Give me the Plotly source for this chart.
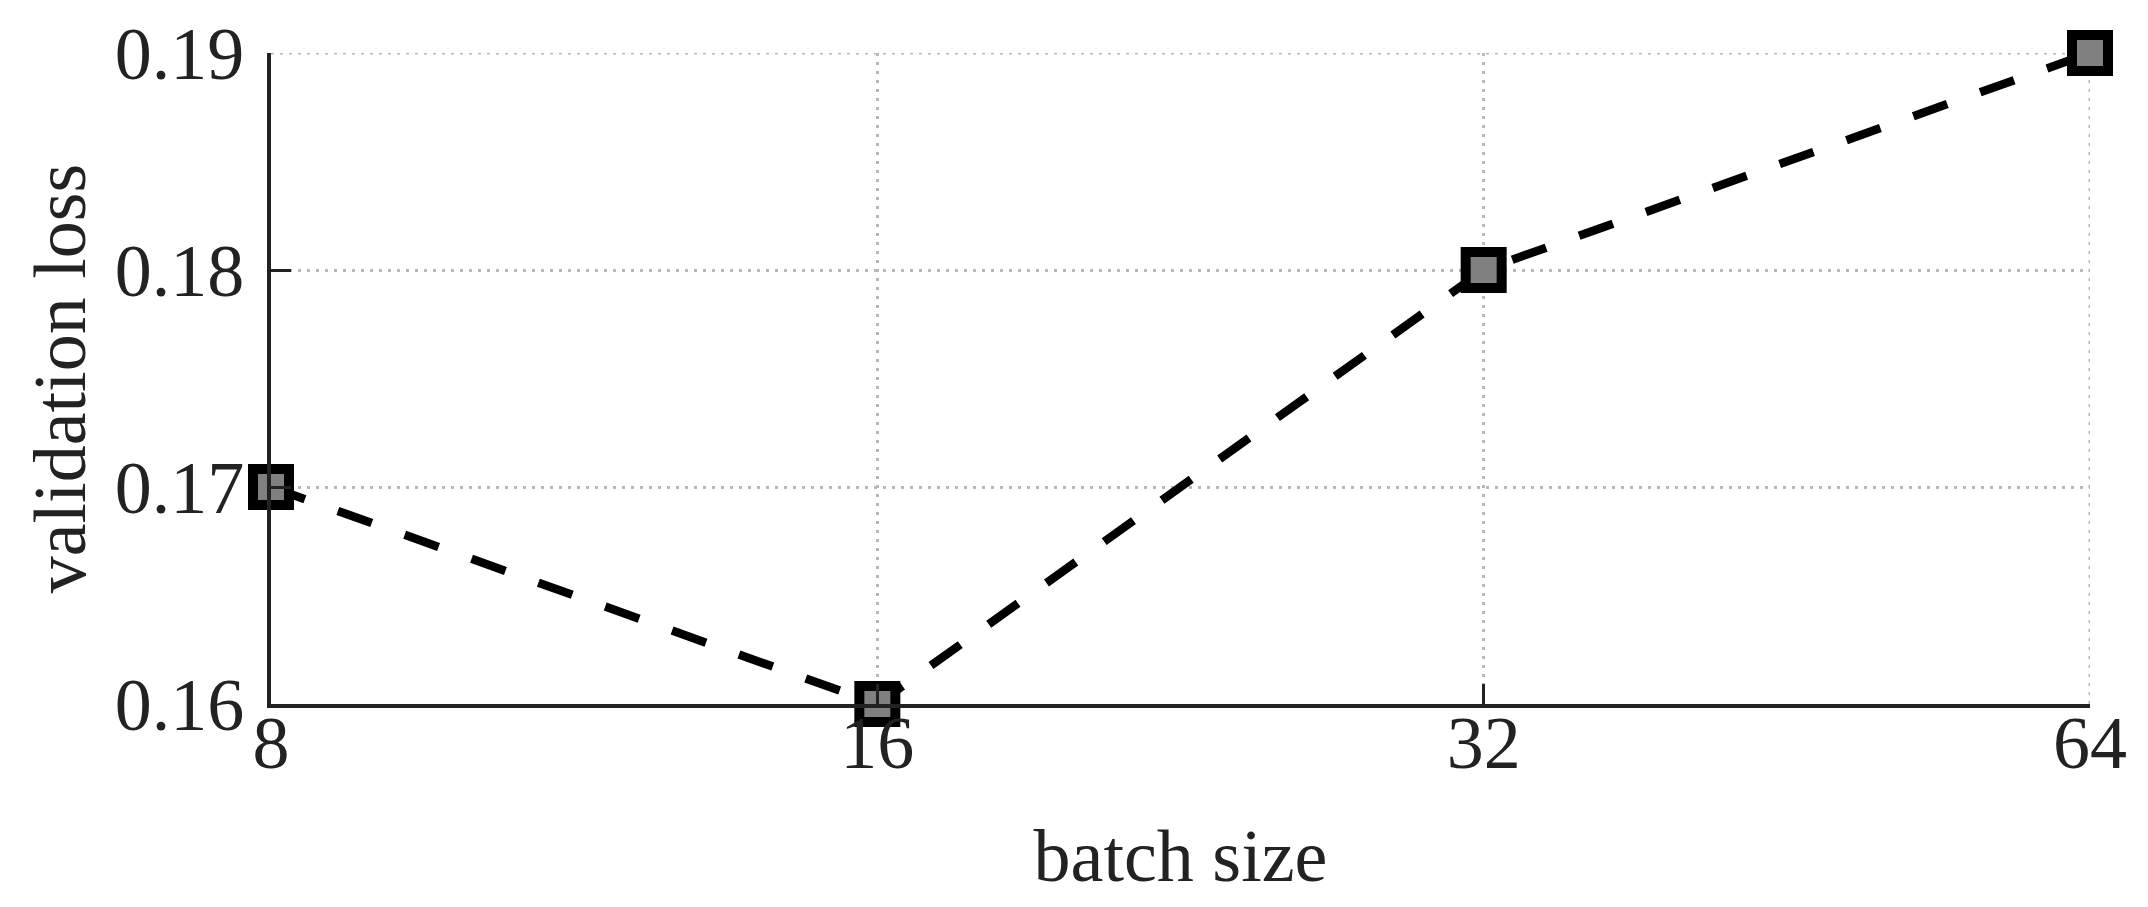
import math

import plotly.graph_objects as go

batch_size = [8, 16, 32, 64]
validation_loss = [0.17, 0.16, 0.18, 0.19]

y_ticks = [0.16, 0.17, 0.18, 0.19]
y_tick_labels = ["0.16", "0.17", "0.18", "0.19"]

FONT = "Liberation Serif, Times New Roman, serif"
AXIS_COLOR = "#222222"
GRID_COLOR = "#b8b8b8"
GRID_DASH = "3px,6px"

fig = go.Figure()
fig.add_trace(
    go.Scatter(
        x=batch_size,
        y=validation_loss,
        mode="lines+markers",
        line=dict(color="black", width=8.5, dash="36px,35px"),
        marker=dict(
            symbol="square",
            size=36,
            color="#808080",
            line=dict(color="black", width=10),
        ),
        cliponaxis=False,
        showlegend=False,
    )
)

# grid lines on the plot edges (plotly drops them at the border)
fig.add_hline(y=y_ticks[-1], line=dict(color=GRID_COLOR, width=3, dash=GRID_DASH), layer="below")
fig.add_vline(x=batch_size[-1], line=dict(color=GRID_COLOR, width=3, dash=GRID_DASH), layer="below")

eps = 1e-6
fig.update_xaxes(
    type="log",
    range=[math.log10(8) - eps, math.log10(64) + eps],
    tickvals=batch_size,
    ticktext=[str(b) for b in batch_size],
    ticks="inside",
    ticklen=20,
    tickwidth=3,
    tickcolor=AXIS_COLOR,
    showline=True,
    linecolor=AXIS_COLOR,
    linewidth=4,
    showgrid=True,
    gridcolor=GRID_COLOR,
    gridwidth=3,
    griddash=GRID_DASH,
    zeroline=False,
    ticklabelstandoff=-29,
    tickfont=dict(family=FONT, size=74, color=AXIS_COLOR),
    title=dict(text="batch size", font=dict(family=FONT, size=74, color=AXIS_COLOR), standoff=47),
)
fig.update_yaxes(
    range=[0.16, 0.19],
    tickvals=y_ticks,
    ticktext=y_tick_labels,
    ticks="inside",
    ticklen=20,
    tickwidth=3,
    tickcolor=AXIS_COLOR,
    showline=True,
    linecolor=AXIS_COLOR,
    linewidth=4,
    showgrid=True,
    gridcolor=GRID_COLOR,
    gridwidth=3,
    griddash=GRID_DASH,
    zeroline=False,
    ticklabelstandoff=8,
    tickfont=dict(family=FONT, size=74, color=AXIS_COLOR),
    title=dict(text="validation loss", font=dict(family=FONT, size=74, color=AXIS_COLOR), standoff=6),
)

fig.update_layout(
    width=2148,
    height=907,
    margin=dict(l=263, r=66, t=45, b=211, autoexpand=False),
    paper_bgcolor="white",
    plot_bgcolor="white",
)

fig.write_html("out.html")
